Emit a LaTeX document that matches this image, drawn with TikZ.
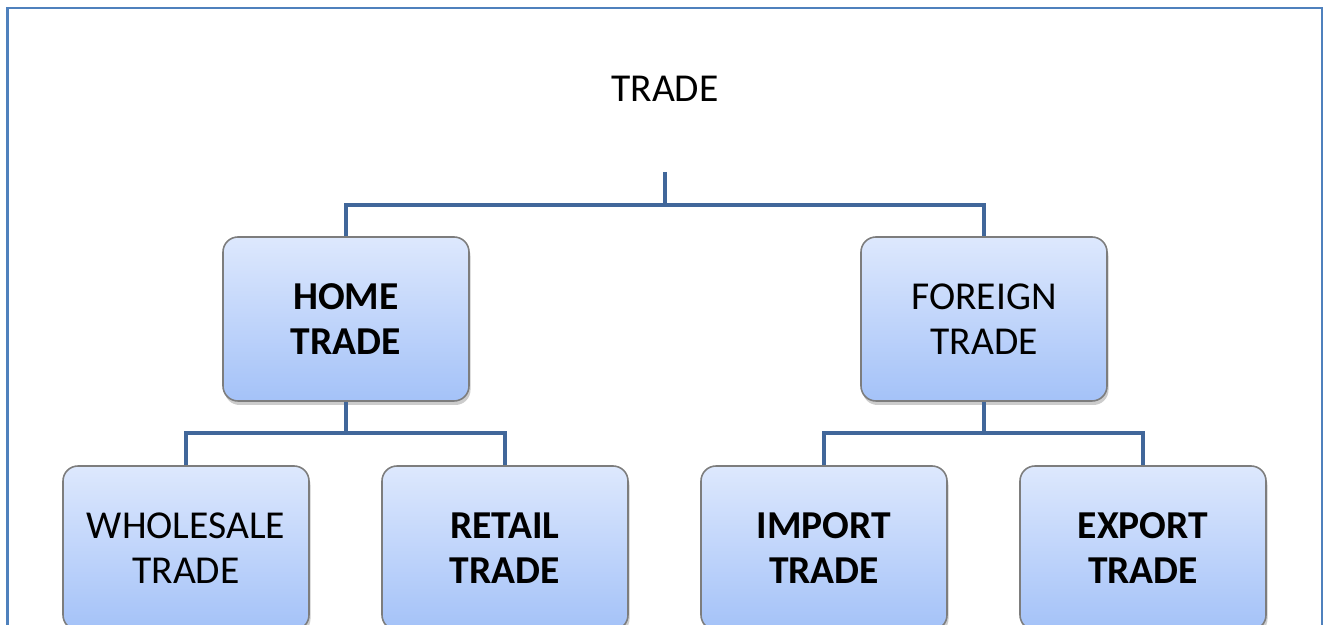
\documentclass[tikz,border=0pt]{standalone}
\usepackage{fontspec}
\setmainfont{Carlito}
\usetikzlibrary{shadows}

\definecolor{framecol}{RGB}{79,129,189}
\definecolor{linkcol}{RGB}{65,103,154}
\definecolor{boxtop}{RGB}{221,232,253}
\definecolor{boxbot}{RGB}{164,194,248}
\definecolor{boxline}{RGB}{125,125,125}

\tikzset{
  tradebox/.style={draw=boxline, line width=0.9pt, rounded corners=0.3cm,
    minimum width=4.92cm, minimum height=3.28cm, align=center,
    top color=boxtop, bottom color=boxbot,
    drop shadow={opacity=0.4, shadow xshift=0.03cm, shadow yshift=-0.08cm},
    font=\fontsize{22.5}{25.6}\selectfont},
  link/.style={draw=linkcol, line width=2.8pt}
}

\begin{document}
\begin{tikzpicture}
\clip (0,0) rectangle (26.6,12.5);
% outer frame
\draw[framecol, line width=1.6pt] (0.15,-0.5) rectangle (26.44,12.34);
% title
\node (trade) at (13.3,10.72) {\fontsize{22.5}{25.6}\selectfont TRADE};
% first level
\node[tradebox] (home) at (6.92,6.12) {\textbf{HOME}\\\textbf{TRADE}};
\node[tradebox] (foreign) at (19.68,6.12) {FOREIGN\\TRADE};
% second level
\node[tradebox] (wholesale) at (3.72,1.54) {WHOLESALE\\TRADE};
\node[tradebox] (retail) at (10.10,1.54) {\textbf{RETAIL}\\\textbf{TRADE}};
\node[tradebox] (import) at (16.48,1.54) {\textbf{IMPORT}\\\textbf{TRADE}};
\node[tradebox] (export) at (22.86,1.54) {\textbf{EXPORT}\\\textbf{TRADE}};
% connectors
\coordinate (stem) at (13.3,9.06);
\coordinate (hub) at (13.3,8.4);
\coordinate (homefork) at (6.92,3.84);
\coordinate (foreignfork) at (19.68,3.84);
\draw[link] (stem) -- (hub);
\draw[link] (home.north) |- (hub) -| (foreign.north);
\draw[link] (home.south) -- (homefork);
\draw[link] (wholesale.north) |- (homefork) -| (retail.north);
\draw[link] (foreign.south) -- (foreignfork);
\draw[link] (import.north) |- (foreignfork) -| (export.north);
\end{tikzpicture}
\end{document}
